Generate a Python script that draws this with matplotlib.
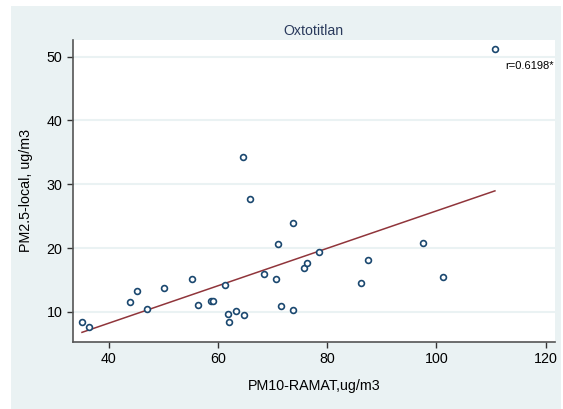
import numpy as np
import matplotlib
matplotlib.use("Agg")
import matplotlib.pyplot as plt
from matplotlib.patches import Rectangle

# PM10 (RAMAT) vs local PM2.5 at Oxtotitlan
pm10 = [35.1, 36.3, 43.96, 45.2, 47.07, 50.1, 55.2, 56.35, 58.67, 59.15,
        61.24, 61.84, 62.08, 63.25, 64.77, 65.8, 64.59, 68.43, 70.69, 70.94,
        71.6, 73.74, 73.74, 75.81, 76.36, 78.56, 86.19, 87.53, 97.54, 101.26,
        110.7]
pm25 = [8.4, 7.6, 11.55, 13.2, 10.45, 13.7, 15.2, 11.13, 11.76, 11.76,
        14.26, 9.72, 8.46, 10.09, 9.51, 27.74, 34.23, 15.94, 15.16, 20.69,
        10.88, 23.93, 10.25, 16.93, 17.66, 19.34, 14.53, 18.18, 20.75, 15.47,
        51.25]
xticks = [40, 60, 80, 100, 120]
yticks = [10, 20, 30, 40, 50]
title = "Oxtotitlan"
rlabel = "r=0.6198*"

bg = "#eaf2f3"
navy = "#1a476f"
maroon = "#90353b"

plt.rcParams['font.family'] = ['Liberation Sans', 'DejaVu Sans']

fig = plt.figure(figsize=(5.63, 4.09), dpi=100)
fig.patch.set_facecolor("white")
# shaded graph region, kept behind the axes
fig.patches.append(Rectangle((11 / 563, 0), 550 / 563, 403 / 409,
                             transform=fig.transFigure, facecolor=bg,
                             edgecolor="none", zorder=-10))

ax = fig.add_axes([72.7 / 563, 1 - 341.7 / 409, (555 - 72.7) / 563, (341.7 - 39.5) / 409])
ax.set_facecolor("white")

x = np.array(pm10)
y = np.array(pm25)
slope, icpt = np.polyfit(x, y, 1)
xs = np.array([x.min(), x.max()])

ax.plot(x, y, 'o', ms=4.2, mfc="white", mec=navy, mew=1.2, zorder=3)
ax.plot(xs, icpt + slope * xs, color=maroon, lw=1.1, zorder=2)

ax.set_xlim(33.4, 121.7)
ax.set_ylim(5.33, 52.69)
ax.set_xticks(xticks)
ax.set_yticks(yticks)
ax.grid(axis='y', color=bg, lw=1.5)
ax.set_axisbelow(True)

for s in ("top", "right"):
    ax.spines[s].set_visible(False)
for s in ("left", "bottom"):
    ax.spines[s].set_color("#555555")
    ax.spines[s].set_linewidth(1.2)
ax.tick_params(direction='out', length=4.5, width=1, color="#333333",
               labelsize=10.3, pad=3)

ax.set_xlabel("PM10-RAMAT,ug/m3", fontsize=10.3, labelpad=9)
ax.set_ylabel("PM2.5-local, ug/m3", fontsize=10.3, labelpad=10)
ax.set_title(title, fontsize=10.2, color="#2a3a5c", pad=3)

ax.text(0.998, 48.5, rlabel, transform=ax.get_yaxis_transform(),
        ha='right', va='center', fontsize=8)

fig.savefig("out.png", dpi=100, facecolor=fig.get_facecolor())
